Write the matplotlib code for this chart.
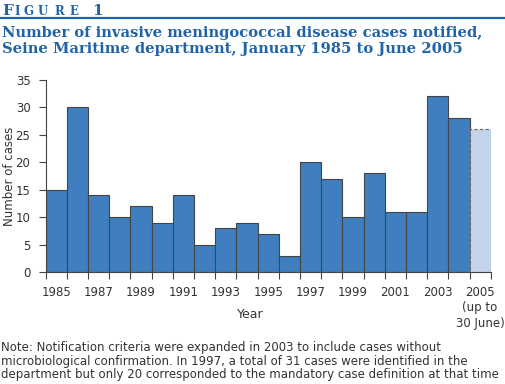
import matplotlib
matplotlib.use("Agg")
import matplotlib.pyplot as plt

years = list(range(1985, 2006))
cases = [15, 30, 14, 10, 12, 9, 14, 5, 8, 9, 7, 3, 20, 17, 10, 18, 11, 11, 32, 28, 26]
label_years = ["1985", "1987", "1989", "1991", "1993", "1995", "1997", "1999", "2001", "2003", "2005\n(up to\n30 June)"]
yticks = [0, 5, 10, 15, 20, 25, 30, 35]

W, H = 505, 384
fig = plt.figure(figsize=(W / 100, H / 100), dpi=100)

blue = "#1f63a8"
bar_blue = "#3f7fbf"
partial_blue = "#c3d3ea"
text_col = "#333333"
sans = ["DejaVu Sans"]
serif = ["DejaVu Serif"]

def px(x, y):
    return x / W, 1 - y / H

# "FIGURE 1" header in small caps
fig.text(*px(2, 15), "F", fontsize=11, family=serif, weight="bold", color=blue, ha="left", va="baseline")
for ch, x in zip("IGURE", [14, 23, 38, 54, 69]):
    fig.text(*px(x, 15), ch, fontsize=8.5, family=serif, weight="bold", color=blue, ha="left", va="baseline")
fig.text(*px(92, 15), "1", fontsize=11, family=serif, weight="bold", color=blue, ha="left", va="baseline")
fig.add_artist(plt.Line2D([0, 1], [1 - 17.5 / H] * 2, color=blue, lw=1.6, transform=fig.transFigure))

fig.text(*px(2, 37), "Number of invasive meningococcal disease cases notified,",
         fontsize=10.6, family=serif, weight="bold", color=blue, ha="left", va="baseline")
fig.text(*px(2, 53), "Seine Maritime department, January 1985 to June 2005",
         fontsize=10.6, family=serif, weight="bold", color=blue, ha="left", va="baseline")

ax = fig.add_axes([45.7 / W, 1 - 272 / H, 445 / W, 192 / H])
n = len(years)
xs = list(range(n))
ax.bar(xs[:-1], cases[:-1], width=1, align="edge", color=bar_blue, edgecolor="#444444", linewidth=0.8)
ax.bar(xs[-1:], cases[-1:], width=1, align="edge", color=partial_blue, edgecolor="#666666",
       linewidth=0.8, linestyle=(0, (3, 2)))

ax.set_xlim(0, n)
ax.set_ylim(0, 35)
ax.set_yticks(yticks)
ax.set_xticks(range(n + 1))
ax.set_xticklabels([])
ax.set_xticks([i + 0.5 for i in range(0, n, 2)], minor=True)
ax.set_xticklabels(label_years, minor=True, linespacing=1.25)
ax.tick_params(axis="x", which="major", length=5, width=0.8, color="#444444", direction="out")
ax.tick_params(axis="x", which="minor", length=0, pad=10, labelsize=8.5, labelcolor=text_col)
ax.tick_params(axis="y", length=5, width=0.8, color="#444444", labelsize=8.5, labelcolor=text_col, pad=6)
for s in ["top", "right"]:
    ax.spines[s].set_visible(False)
for s in ["left", "bottom"]:
    ax.spines[s].set_color("#444444")
    ax.spines[s].set_linewidth(0.8)
ax.set_ylabel("Number of cases", fontsize=8.5, color=text_col, family=sans)
ax.yaxis.set_label_coords(-0.066, 0.5)
ax.set_xlabel("Year", fontsize=9, color=text_col, family=sans)
ax.xaxis.set_label_coords(0.46, -0.19)

note = ("Note: Notification criteria were expanded in 2003 to include cases without\n"
        "microbiological confirmation. In 1997, a total of 31 cases were identified in the\n"
        "department but only 20 corresponded to the mandatory case definition at that time")
fig.text(*px(1, 341), note, fontsize=8.5, family=sans, color=text_col, ha="left", va="top", linespacing=1.05)

fig.savefig("out.png", dpi=100)
